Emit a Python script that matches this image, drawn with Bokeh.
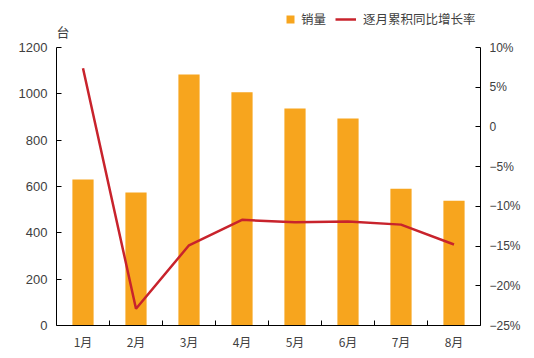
from bokeh.plotting import figure
from bokeh.models import (LinearAxis, Range1d, FixedTicker, CustomJSTickFormatter,
                          Legend, LegendItem, Label, ColumnDataSource)
from bokeh.embed import file_html
from bokeh.resources import INLINE

months = ["1月", "2月", "3月", "4月", "5月", "6月", "7月", "8月"]
sales = [630, 574, 1083, 1007, 937, 893, 590, 538]
growth = [7.4, -22.9, -14.9, -11.7, -12.0, -11.9, -12.3, -14.8]
left_ticks = [0, 200, 400, 600, 800, 1000, 1200]
right_ticks = [-25, -20, -15, -10, -5, 0, 5, 10]

BAR = "#F7A51E"
LINE = "#C8232C"
TXT = "#404040"
CJK = "Noto Sans CJK SC"
NUM = "Liberation Sans"

# frame spans the whole height; axes are bounded to their tick ranges
TOP_PAD = 47.0   # px above the top tick
AXIS_H = 278.0   # px between bottom and top tick
lmin, lmax = left_ticks[0], left_ticks[-1]
rmin, rmax = right_ticks[0], right_ticks[-1]
l_end = lmax + (lmax - lmin) * TOP_PAD / AXIS_H
r_end = rmax + (rmax - rmin) * TOP_PAD / AXIS_H

xs = list(range(1, len(months) + 1))
src = ColumnDataSource(dict(x=xs, sales=sales, growth=growth))

p = figure(width=534, height=358, output_backend="svg", toolbar_location=None,
           x_range=Range1d(0.5, len(months) + 0.5), y_range=Range1d(lmin, l_end),
           min_border_left=56, min_border_right=54, min_border_top=0, min_border_bottom=33)
p.extra_y_ranges = {"pct": Range1d(rmin, r_end)}
p.outline_line_color = None
p.xgrid.visible = False
p.ygrid.visible = False
p.background_fill_color = "white"
p.border_fill_color = "white"

bars = p.vbar(x="x", top="sales", width=0.4, source=src, fill_color=BAR, line_color=None)
line = p.line(x="x", y="growth", source=src, y_range_name="pct", line_color=LINE, line_width=2.5)

# x axis
xa = p.xaxis[0]
xa.ticker = FixedTicker(ticks=xs, minor_ticks=[i + 0.5 for i in xs[:-1]])
xa.major_label_overrides = {i: m for i, m in zip(xs, months)}
xa.major_tick_in = 0
xa.major_tick_out = 0
xa.minor_tick_in = 5
xa.minor_tick_out = 0
xa.minor_tick_line_color = "black"
xa.axis_line_color = "black"
xa.major_label_text_font = CJK
xa.major_label_text_font_size = "12px"
xa.major_label_text_color = TXT
xa.major_label_standoff = 7

# left axis
ya = p.yaxis[0]
ya.ticker = FixedTicker(ticks=left_ticks)
ya.bounds = (lmin, lmax)
ya.major_tick_in = 5
ya.major_tick_out = 0
ya.minor_tick_in = 0
ya.minor_tick_out = 0
ya.axis_line_color = "black"
ya.major_tick_line_color = "black"
ya.major_label_text_font = NUM
ya.major_label_text_font_size = "13px"
ya.major_label_text_color = TXT
ya.major_label_standoff = 9

# right axis
ra = LinearAxis(y_range_name="pct")
ra.ticker = FixedTicker(ticks=right_ticks)
ra.bounds = (rmin, rmax)
ra.formatter = CustomJSTickFormatter(code="""
if (tick == 0) return "0";
return (tick < 0 ? "\u2212" + Math.abs(tick) : tick) + "%";
""")
ra.major_tick_in = 5
ra.major_tick_out = 0
ra.minor_tick_in = 0
ra.minor_tick_out = 0
ra.axis_line_color = "black"
ra.major_tick_line_color = "black"
ra.major_label_text_font = NUM
ra.major_label_text_font_size = "12px"
ra.major_label_text_color = TXT
ra.major_label_standoff = 9
p.add_layout(ra, "right")

# unit label
p.add_layout(Label(x=0, y=294, x_units="screen", y_units="screen", text="台",
                   text_font=CJK, text_font_size="13px", text_color=TXT,
                   text_align="left", text_baseline="middle"))

# legends
leg1 = Legend(items=[LegendItem(label="销量", renderers=[bars])],
              location=(229, 297), orientation="horizontal",
              glyph_width=10, glyph_height=10, label_standoff=6,
              padding=0, margin=0, spacing=0,
              border_line_color=None, background_fill_alpha=0,
              label_text_font=CJK, label_text_font_size="12.5px", label_text_color=TXT)
leg2 = Legend(items=[LegendItem(label="逐月累积同比增长率", renderers=[line])],
              location=(279, 297), orientation="horizontal",
              glyph_width=21, glyph_height=10, label_standoff=7,
              padding=0, margin=0, spacing=0,
              border_line_color=None, background_fill_alpha=0,
              label_text_font=CJK, label_text_font_size="12.5px", label_text_color=TXT)
p.add_layout(leg1, "center")
p.add_layout(leg2, "center")

open("out.html", "w").write(file_html(p, INLINE))
